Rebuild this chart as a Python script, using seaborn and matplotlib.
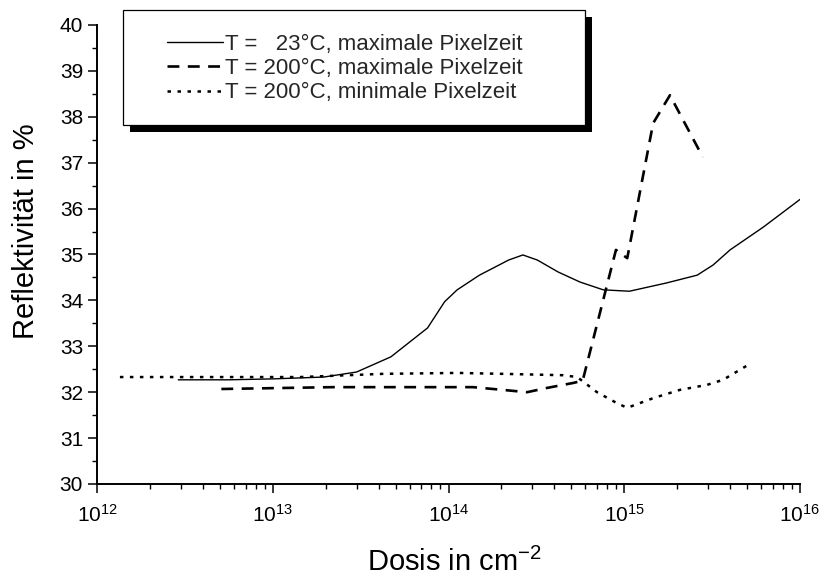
import matplotlib
matplotlib.use("Agg")
import matplotlib.pyplot as plt
from matplotlib.patches import Rectangle
from matplotlib.ticker import LogLocator, MultipleLocator, NullFormatter
import seaborn as sns

# Reflectivity vs. implantation dose
dose_23_max = [2.9e12, 5.6e12, 1.0e13, 1.95e13, 3.0e13, 4.7e13, 7.6e13, 9.5e13,
               1.12e14, 1.5e14, 2.2e14, 2.65e14, 3.2e14, 4.2e14, 5.6e14, 7.6e14,
               1.07e15, 1.74e15, 2.6e15, 3.2e15, 4.0e15, 6.2e15, 1.0e16]
refl_23_max = [32.27, 32.27, 32.29, 32.33, 32.44, 32.77, 33.40, 33.97,
               34.23, 34.55, 34.88, 34.99, 34.88, 34.62, 34.40, 34.23,
               34.20, 34.38, 34.55, 34.77, 35.10, 35.60, 36.20]

dose_200_max = [5.1e12, 2.2e13, 7.9e13, 1.38e14, 2.04e14, 2.8e14, 3.6e14,
                5.1e14, 5.8e14, 8.97e14, 1.04e15, 1.46e15, 1.82e15, 2.8e15]
refl_200_max = [32.07, 32.11, 32.11, 32.11, 32.05, 32.00, 32.09,
                32.20, 32.25, 35.10, 34.92, 37.86, 38.47, 37.12]

dose_200_min = [1.35e12, 3.85e12, 1.43e13, 4.24e13, 1.12e14, 2.04e14, 4.48e14,
                5.4e14, 7.0e14, 9.1e14, 1.04e15, 1.46e15, 2.07e15, 2.96e15,
                3.65e15, 5.2e15]
refl_200_min = [32.33, 32.33, 32.33, 32.40, 32.42, 32.40, 32.37,
                32.33, 32.00, 31.76, 31.66, 31.87, 32.05, 32.16,
                32.27, 32.62]

series_labels = ["T =   23°C, maximale Pixelzeit",
                 "T = 200°C, maximale Pixelzeit",
                 "T = 200°C, minimale Pixelzeit"]

xtick_values = [1e12, 1e13, 1e14, 1e15, 1e16]
xtick_labels = [r"$\mathregular{10^{12}}$", r"$\mathregular{10^{13}}$",
                r"$\mathregular{10^{14}}$", r"$\mathregular{10^{15}}$",
                r"$\mathregular{10^{16}}$"]

sns.set_theme(style="ticks")
plt.rcParams["font.family"] = ["Liberation Sans", "DejaVu Sans"]
plt.rcParams["mathtext.fontset"] = "custom"
plt.rcParams["mathtext.rm"] = "Liberation Sans"
plt.rcParams["mathtext.it"] = "Liberation Sans:italic"
plt.rcParams["mathtext.bf"] = "Liberation Sans:bold"

W, H = 825, 577
fig = plt.figure(figsize=(W / 100, H / 100), dpi=100)
ax = fig.add_axes([97 / W, 93 / H, 703 / W, 459 / H])

sns.lineplot(x=dose_23_max, y=refl_23_max, ax=ax, color="black",
             linewidth=1.0, linestyle="-", label=series_labels[0])
sns.lineplot(x=dose_200_max, y=refl_200_max, ax=ax, color="black",
             linewidth=1.9, linestyle=(0, (4.5, 3.2)), label=series_labels[1])
sns.lineplot(x=dose_200_min, y=refl_200_min, ax=ax, color="black",
             linewidth=1.8, linestyle=(0, (1.4, 2.6)), label=series_labels[2])

ax.set_xscale("log")
ax.set_xlim(1e12, 1e16)
ax.set_ylim(30, 40)
ax.set_xticks(xtick_values, labels=xtick_labels)
ax.xaxis.set_minor_locator(LogLocator(base=10, subs=range(2, 10), numticks=50))
ax.xaxis.set_minor_formatter(NullFormatter())
ax.yaxis.set_major_locator(MultipleLocator(1))
ax.yaxis.set_minor_locator(MultipleLocator(0.5))

ax.tick_params(axis="both", which="major", direction="out", length=6.5,
               width=1.1, color="black", labelsize=15, labelcolor="black")
ax.tick_params(axis="both", which="minor", direction="out", length=3.6,
               width=1.0, color="black")
ax.tick_params(axis="y", which="major", pad=3.5)
ax.tick_params(axis="x", which="major", pad=8)

sns.despine(ax=ax)
for side in ("left", "bottom"):
    ax.spines[side].set_linewidth(1.4)
    ax.spines[side].set_color("black")

ax.set_ylabel("Reflektivität in %", fontsize=21, color="black")
ax.yaxis.set_label_coords(-0.081, 0.55)
ax.set_xlabel(r"Dosis in cm$^{\mathregular{-2}}$", fontsize=21, color="black")
ax.xaxis.set_label_coords(0.509, -0.139)

# Legend text without frame, boxed by hand with a solid drop shadow
leg = ax.legend(loc="center left", bbox_to_anchor=(167 / W, 1 - 68.5 / H),
                bbox_transform=fig.transFigure, frameon=False, fontsize=16,
                handlelength=2.5, handletextpad=0.1, labelspacing=0.15,
                borderpad=0, borderaxespad=0)
for line in leg.get_lines():
    line.set_color("black")

bx0, bx1, by0, by1 = 123, 585, 10, 125
shadow = Rectangle(((bx0 + 7) / W, 1 - (by1 + 7) / H), (bx1 - bx0) / W,
                   (by1 - by0) / H, transform=fig.transFigure,
                   facecolor="black", edgecolor="none", clip_on=False, zorder=4)
box = Rectangle((bx0 / W, 1 - by1 / H), (bx1 - bx0) / W, (by1 - by0) / H,
                transform=fig.transFigure, facecolor="white",
                edgecolor="black", linewidth=0.9, clip_on=False, zorder=4.5)
ax.add_patch(shadow)
ax.add_patch(box)

fig.savefig("out.png", dpi=100, facecolor="white")
